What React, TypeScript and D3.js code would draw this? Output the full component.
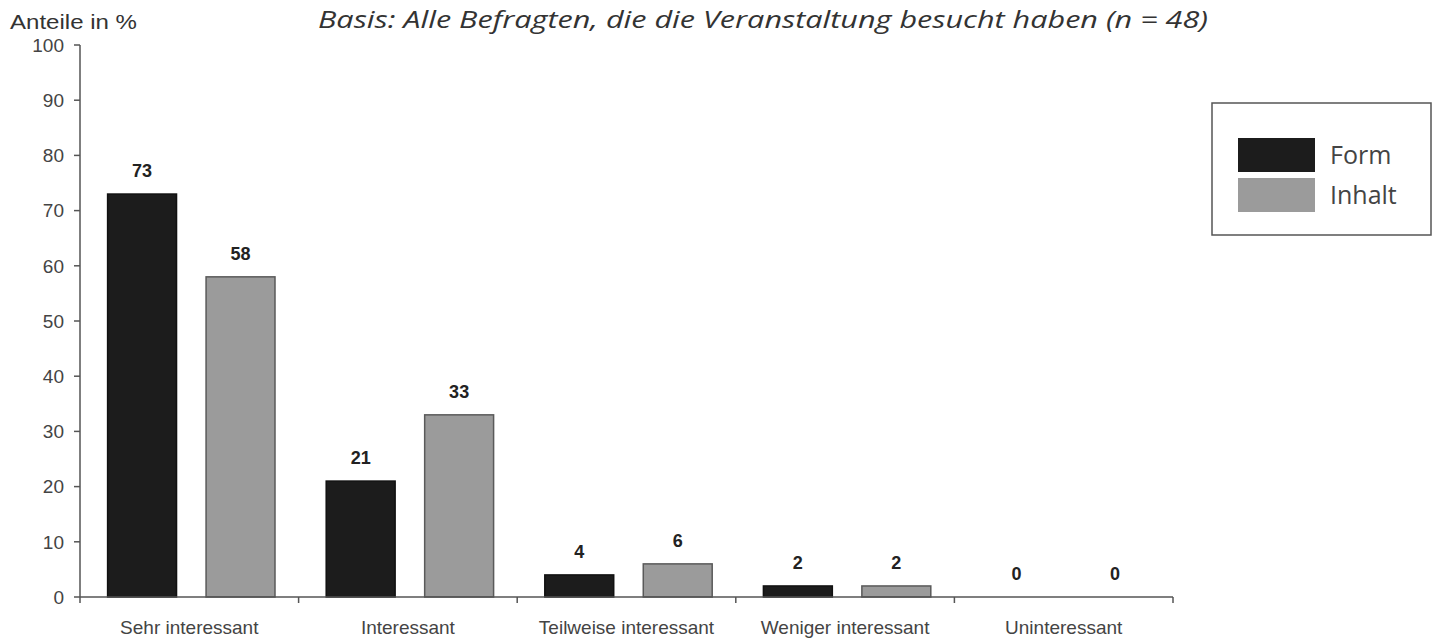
import React from "react";
import * as d3 from "d3";

const categories = [
  "Sehr interessant",
  "Interessant",
  "Teilweise interessant",
  "Weniger interessant",
  "Uninteressant",
];
const seriesNames = ["Form", "Inhalt"];
const formValues = [73, 21, 4, 2, 0];
const inhaltValues = [58, 33, 6, 2, 0];
const yTicks = [0, 10, 20, 30, 40, 50, 60, 70, 80, 90, 100];

const colors: Record<string, string> = { Form: "#1c1c1c", Inhalt: "#9b9b9b" };
const strokes: Record<string, string> = { Form: "#111", Inhalt: "#5a5a5a" };

const W = 1433;
const H = 640;
const plot = { left: 80, right: 1173, top: 45, bottom: 597 };
const sans = "Arial, 'Liberation Sans', sans-serif";

export default function App() {
  const x = d3
    .scaleBand<string>()
    .domain(categories)
    .range([plot.left, plot.right])
    .padding(0);
  // two bars per category, a little right of centre like the original
  const xSub = d3
    .scaleBand<string>()
    .domain(seriesNames)
    .range([2, x.bandwidth() + 2])
    .paddingInner(0.3)
    .paddingOuter(0.26);
  const y = d3.scaleLinear().domain([0, 100]).range([plot.bottom, plot.top]);

  const rows = categories.map((c, i) => ({
    cat: c,
    values: [
      { key: "Form", v: formValues[i] },
      { key: "Inhalt", v: inhaltValues[i] },
    ],
  }));

  const boundaries = [...categories.map((c) => x(c) as number), plot.right];

  return (
    <svg width={W} height={H} style={{ position: "absolute", left: 0, top: 0, background: "#fff" }}>
      <rect width={W} height={H} fill="#fff" />
      {/* title */}
      <text
        x={318}
        y={28}
        textLength={890}
        lengthAdjust="spacingAndGlyphs"
        fontFamily="'Open Sans', sans-serif"
        fontStyle="italic"
        fontSize={24}
        fill="#333"
      >
        Basis: Alle Befragten, die die Veranstaltung besucht haben (n = 48)
      </text>
      <text x={10} y={29} textLength={127} lengthAdjust="spacingAndGlyphs" fontFamily={sans} fontSize={20} fill="#333">
        Anteile in %
      </text>

      {/* y axis */}
      <line x1={plot.left} x2={plot.left} y1={plot.top} y2={plot.bottom} stroke="#555" strokeWidth={1.5} />
      {yTicks.map((t) => (
        <g key={t}>
          <line x1={plot.left - 6} x2={plot.left} y1={y(t)} y2={y(t)} stroke="#555" strokeWidth={1.5} />
          <text
            x={plot.left - 16}
            y={y(t)}
            dy="0.36em"
            textAnchor="end"
            fontFamily={sans}
            fontSize={19}
            fill="#444"
          >
            {t}
          </text>
        </g>
      ))}

      {/* bars */}
      {rows.map((r) => (
        <g key={r.cat} transform={`translate(${x(r.cat)},0)`}>
          {r.values.map((d) => {
            const bx = xSub(d.key) as number;
            const bw = xSub.bandwidth();
            return (
              <g key={d.key}>
                {d.v > 0 && (
                  <rect
                    x={bx}
                    y={y(d.v)}
                    width={bw}
                    height={y(0) - y(d.v)}
                    fill={colors[d.key]}
                    stroke={strokes[d.key]}
                    strokeWidth={1.5}
                  />
                )}
                <text
                  x={bx + bw / 2}
                  y={y(d.v) - 17}
                  textAnchor="middle"
                  fontFamily={sans}
                  fontWeight="bold"
                  fontSize={18}
                  fill="#222"
                >
                  {d.v}
                </text>
              </g>
            );
          })}
        </g>
      ))}

      {/* x axis */}
      <line x1={plot.left} x2={plot.right} y1={plot.bottom} y2={plot.bottom} stroke="#555" strokeWidth={1.5} />
      {boundaries.map((b, i) => (
        <line key={i} x1={b} x2={b} y1={plot.bottom} y2={plot.bottom + 6} stroke="#555" strokeWidth={1.5} />
      ))}
      {categories.map((c) => (
        <text
          key={c}
          x={(x(c) as number) + x.bandwidth() / 2}
          y={634}
          textAnchor="middle"
          fontFamily={sans}
          fontSize={19}
          fill="#444"
        >
          {c}
        </text>
      ))}

      {/* legend */}
      <rect x={1212} y={103} width={219} height={132} fill="#fff" stroke="#555" strokeWidth={1.5} />
      {seriesNames.map((s, i) => (
        <g key={s} transform={`translate(1238,${138 + i * 40})`}>
          <rect width={77} height={34} fill={colors[s]} />
          <text x={92} y={17} dy="0.35em" fontFamily="'Open Sans', sans-serif" fontSize={25} fill="#444">
            {s}
          </text>
        </g>
      ))}
    </svg>
  );
}
